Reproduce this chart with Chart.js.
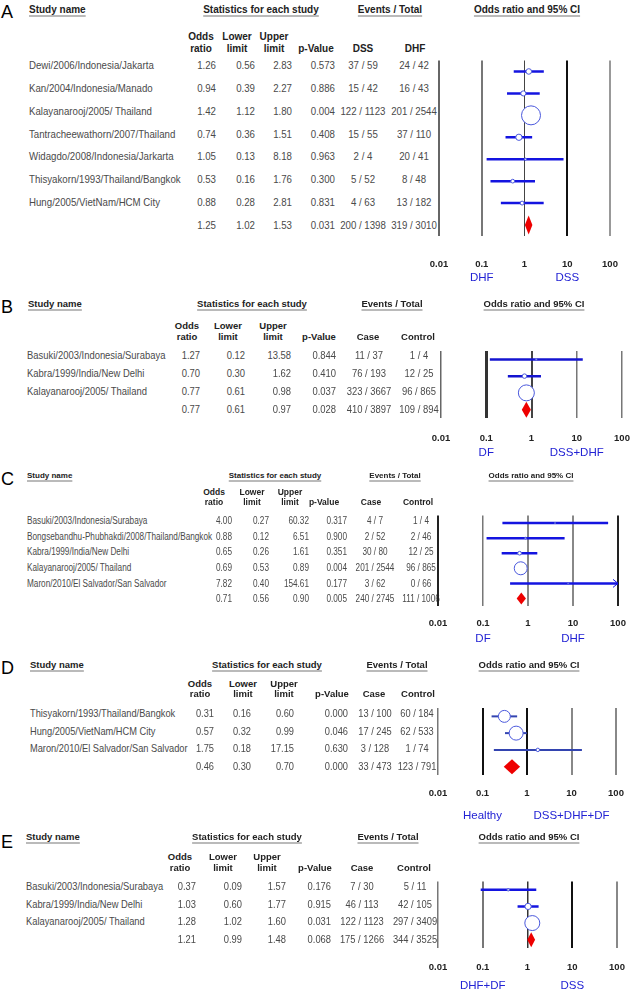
<!DOCTYPE html>
<html>
<head>
<meta charset="utf-8">
<title>Odds ratio forest plots</title>
<script src="https://cdn.jsdelivr.net/npm/chart.js"></script>
<style>
  body { margin: 0; background: #fff; }
  #page { position: relative; width: 632px; height: 992px; overflow: hidden; background: #fff; }
  .t { position: absolute; white-space: nowrap; line-height: 1; }
  canvas { position: absolute; }
</style>
</head>
<body>
<div id="page"></div>
<script>
// ---- values ----
const tickValues = [0.01, 0.1, 1, 10, 100];
const tickLabels = ['0.01', '0.1', '1', '10', '100'];

// A: DSS vs DHF (last entry = pooled)
const namesA = ['Dewi/2006/Indonesia/Jakarta', 'Kan/2004/Indonesia/Manado', 'Kalayanarooj/2005/ Thailand',
  'Tantracheewathorn/2007/Thailand', 'Widagdo/2008/Indonesia/Jarkarta', 'Thisyakorn/1993/Thailand/Bangkok',
  'Hung/2005/VietNam/HCM City', ''];
const oddsA = [1.26, 0.94, 1.42, 0.74, 1.05, 0.53, 0.88, 1.25];
const lowerA = [0.56, 0.39, 1.12, 0.36, 0.13, 0.16, 0.28, 1.02];
const upperA = [2.83, 2.27, 1.80, 1.51, 8.18, 1.76, 2.81, 1.53];
const pA = [0.573, 0.886, 0.004, 0.408, 0.963, 0.300, 0.831, 0.031];
const caseA = ['37 / 59', '15 / 42', '122 / 1123', '15 / 55', '2 / 4', '5 / 52', '4 / 63', '200 / 1398'];
const ctrlA = ['24 / 42', '16 / 43', '201 / 2544', '37 / 110', '20 / 41', '8 / 48', '13 / 182', '319 / 3010'];

// B: DSS+DHF vs DF
const namesB = ['Basuki/2003/Indonesia/Surabaya', 'Kabra/1999/India/New Delhi', 'Kalayanarooj/2005/ Thailand', ''];
const oddsB = [1.27, 0.70, 0.77, 0.77];
const lowerB = [0.12, 0.30, 0.61, 0.61];
const upperB = [13.58, 1.62, 0.98, 0.97];
const pB = [0.844, 0.410, 0.037, 0.028];
const caseB = ['11 / 37', '76 / 193', '323 / 3667', '410 / 3897'];
const ctrlB = ['1 / 4', '12 / 25', '96 / 865', '109 / 894'];

// C: DHF vs DF
const namesC = ['Basuki/2003/Indonesia/Surabaya', 'Bongsebandhu-Phubhakdi/2008/Thailand/Bangkok',
  'Kabra/1999/India/New Delhi', 'Kalayanarooj/2005/ Thailand', 'Maron/2010/El Salvador/San Salvador', ''];
const oddsC = [4.00, 0.88, 0.65, 0.69, 7.82, 0.71];
const lowerC = [0.27, 0.12, 0.26, 0.53, 0.40, 0.56];
const upperC = [60.32, 6.51, 1.61, 0.89, 154.61, 0.90];
const pC = [0.317, 0.900, 0.351, 0.004, 0.177, 0.005];
const caseC = ['4 / 7', '2 / 52', '30 / 80', '201 / 2544', '3 / 62', '240 / 2745'];
const ctrlC = ['1 / 4', '2 / 46', '12 / 25', '96 / 865', '0 / 66', '111 / 1006'];

// D: DSS+DHF+DF vs healthy
const namesD = ['Thisyakorn/1993/Thailand/Bangkok', 'Hung/2005/VietNam/HCM City', 'Maron/2010/El Salvador/San Salvador', ''];
const oddsD = [0.31, 0.57, 1.75, 0.46];
const lowerD = [0.16, 0.32, 0.18, 0.30];
const upperD = [0.60, 0.99, 17.15, 0.70];
const pD = [0.000, 0.046, 0.630, 0.000];
const caseD = ['13 / 100', '17 / 245', '3 / 128', '33 / 473'];
const ctrlD = ['60 / 184', '62 / 533', '1 / 74', '123 / 791'];

// E: DSS vs DHF+DF
const namesE = ['Basuki/2003/Indonesia/Surabaya', 'Kabra/1999/India/New Delhi', 'Kalayanarooj/2005/ Thailand', ''];
const oddsE = [0.37, 1.03, 1.28, 1.21];
const lowerE = [0.09, 0.60, 1.02, 0.99];
const upperE = [1.57, 1.77, 1.60, 1.48];
const pE = [0.176, 0.915, 0.031, 0.068];
const caseE = ['7 / 30', '46 / 113', '122 / 1123', '175 / 1266'];
const ctrlE = ['5 / 11', '42 / 105', '297 / 3409', '344 / 3525'];

const panels = [
  { letter: 'A', names: namesA, odds: oddsA, lower: lowerA, upper: upperA, p: pA, ev1: caseA, ev2: ctrlA, evHead: ['DSS', 'DHF'], groups: ['DHF', 'DSS'] },
  { letter: 'B', names: namesB, odds: oddsB, lower: lowerB, upper: upperB, p: pB, ev1: caseB, ev2: ctrlB, evHead: ['Case', 'Control'], groups: ['DF', 'DSS+DHF'] },
  { letter: 'C', names: namesC, odds: oddsC, lower: lowerC, upper: upperC, p: pC, ev1: caseC, ev2: ctrlC, evHead: ['Case', 'Control'], groups: ['DF', 'DHF'] },
  { letter: 'D', names: namesD, odds: oddsD, lower: lowerD, upper: upperD, p: pD, ev1: caseD, ev2: ctrlD, evHead: ['Case', 'Control'], groups: ['Healthy', 'DSS+DHF+DF'] },
  { letter: 'E', names: namesE, odds: oddsE, lower: lowerE, upper: upperE, p: pE, ev1: caseE, ev2: ctrlE, evHead: ['Case', 'Control'], groups: ['DHF+DF', 'DSS'] }
];

// ---- layout / styling per panel ----
const looks = [
  { letterY: 12, titleY: 9, titleX: [29, 261, 390, 527], headY: [36, 48], headX: [201, 237, 274, 316, 363, 415],
    nameX: 29, cols: [216, 255, 292, 335, 363, 414], plot: [439, 610, 54, 236], tickY: 264, groupY: 277,
    textPx: 11.8, headPx: 10, titlePx: 10, maxR: 9.5, halfH: 9.5, ci: '#1414e0', ciW: 2.5,
    grid: [['#666', 2], ['#777', 2], ['#444', 1], ['#111', 2], ['#999', 2]] },
  { letterY: 307, titleY: 303, titleX: [28, 252, 392, 534], headY: [325, 336], headX: [187, 228, 273, 319, 368, 418],
    nameX: 27, cols: [200, 245, 291, 336, 369, 419], plot: [441, 622, 346, 418], tickY: 438, groupY: 452,
    textPx: 11.5, headPx: 9.5, titlePx: 9.5, maxR: 8, halfH: 8, ci: '#1414d0', ciW: 2.5,
    grid: [['#666', 1.5], ['#333', 3], ['#444', 2], ['#777', 1.5], ['#777', 1.5]] },
  { letterY: 479, titleY: 475, titleX: [27, 275, 395, 531], headY: [492, 502], headX: [214, 252, 290, 324, 371, 418],
    nameX: 27, cols: [232, 269, 309, 347, 375, 421], plot: [438, 618, 512, 606], tickY: 623, groupY: 638,
    textPx: 10, headPx: 8.5, titlePx: 8, maxR: 6.5, halfH: 6, ci: '#1414e0', ciW: 2.5,
    grid: [['#222', 2], ['#777', 1.5], ['#888', 2], ['#888', 2], ['#222', 2]] },
  { letterY: 668, titleY: 664, titleX: [30, 267, 397, 529], headY: [683, 693], headX: [200, 243, 284, 332, 374, 418],
    nameX: 30, cols: [214, 251, 294, 348, 375, 417], plot: [438, 616, 704, 775], tickY: 793, groupY: 815,
    textPx: 11.3, headPx: 9.5, titlePx: 9.5, maxR: 7, halfH: 7.5, ci: '#3344b0', ciW: 2,
    grid: [['#777', 1.5], ['#111', 2], ['#111', 2], ['#888', 2], ['#888', 2]] },
  { letterY: 842, titleY: 836, titleX: [26, 247, 388, 529], headY: [856, 867], headX: [180, 223, 267, 315, 362, 414],
    nameX: 26, cols: [196, 242, 286, 331, 362, 415], plot: [438, 617, 877, 948], tickY: 967, groupY: 985,
    textPx: 11.4, headPx: 9.5, titlePx: 9.5, maxR: 7.5, halfH: 7.5, ci: '#1414e0', ciW: 2.5,
    grid: [['#777', 1.5], ['#777', 2], ['#333', 1.5], ['#111', 2], ['#888', 2]] }
];

const page = document.getElementById('page');
const SANS = '"Liberation Sans", Arial, sans-serif';
const NARROW_SCALE = 0.82; // Arial Narrow look, squeezed from Liberation Sans

function put(txt, x, y, align, font, color, underline, squeeze) {
  const d = document.createElement('div');
  d.className = 't';
  d.textContent = txt;
  d.style.font = font;
  d.style.color = color;
  d.style.left = x + 'px';
  d.style.top = y + 'px';
  const tx = align === 'right' ? '-100%' : align === 'center' ? '-50%' : '0';
  let tf = 'translate(' + tx + ', -50%)';
  if (squeeze) {
    tf += ' scaleX(' + squeeze + ')';
    d.style.transformOrigin = (align === 'right' ? 'right' : align === 'center' ? 'center' : 'left') + ' center';
  }
  d.style.transform = tf;
  if (underline) {
    d.style.textDecoration = 'underline';
    d.style.textDecorationColor = '#777';
    d.style.textUnderlineOffset = '3px';
  }
  page.appendChild(d);
}

function forestMarks(pn, lk) {
  const k = pn.odds.length - 1;
  return {
    id: 'forestMarks',
    afterDatasetsDraw(chart) {
      const { ctx, chartArea } = chart;
      const x = chart.scales.x, y = chart.scales.y;
      // pooled diamond
      const xl = x.getPixelForValue(pn.lower[k]), xo = x.getPixelForValue(pn.odds[k]);
      const xh = x.getPixelForValue(pn.upper[k]), yc = y.getPixelForValue(k);
      ctx.save();
      ctx.fillStyle = '#ee0000';
      ctx.beginPath();
      ctx.moveTo(xl, yc);
      ctx.lineTo(xo, yc - lk.halfH);
      ctx.lineTo(xh, yc);
      ctx.lineTo(xo, yc + lk.halfH);
      ctx.closePath();
      ctx.fill();
      // arrowheads where the interval runs past the axis
      ctx.strokeStyle = lk.ci;
      ctx.lineWidth = 1;
      for (let i = 0; i < k; i++) {
        if (pn.upper[i] > x.max) {
          const yy = y.getPixelForValue(i), xr = chartArea.right;
          ctx.beginPath();
          ctx.moveTo(xr - 5, yy - 4);
          ctx.lineTo(xr, yy);
          ctx.lineTo(xr - 5, yy + 4);
          ctx.stroke();
        }
      }
      ctx.restore();
    }
  };
}

function buildPanel(pn, lk) {
  const n = pn.odds.length;
  const k = n - 1;
  const [pl, pr, pt, pb] = lk.plot;
  const rowY = i => pt + (i + 0.5) * (pb - pt) / n;

  // letter and section titles
  put(pn.letter, 1, lk.letterY, 'left', '18px ' + SANS, '#000');
  const tf = 'bold ' + lk.titlePx + 'px ' + SANS;
  put('Study name', lk.titleX[0], lk.titleY, 'left', tf, '#222', true);
  put('Statistics for each study', lk.titleX[1], lk.titleY, 'center', tf, '#222', true);
  put('Events / Total', lk.titleX[2], lk.titleY, 'center', tf, '#222', true);
  put('Odds ratio and 95% CI', lk.titleX[3], lk.titleY, 'center', tf, '#222', true);

  // column headers
  const hf = 'bold ' + lk.headPx + 'px ' + SANS;
  const head1 = ['Odds', 'Lower', 'Upper', '', '', ''];
  const head2 = ['ratio', 'limit', 'limit', 'p-Value', pn.evHead[0], pn.evHead[1]];
  head1.forEach((h, i) => { if (h) put(h, lk.headX[i], lk.headY[0], 'center', hf, '#222'); });
  head2.forEach((h, i) => put(h, lk.headX[i], lk.headY[1], 'center', hf, '#222'));

  // table rows
  const bf = lk.textPx + 'px ' + SANS;
  const col = '#4a4a4a';
  const sq = NARROW_SCALE;
  for (let i = 0; i < n; i++) {
    const yy = rowY(i);
    if (pn.names[i]) put(pn.names[i], lk.nameX, yy, 'left', bf, col, false, sq);
    put(pn.odds[i].toFixed(2), lk.cols[0], yy, 'right', bf, col, false, sq);
    put(pn.lower[i].toFixed(2), lk.cols[1], yy, 'right', bf, col, false, sq);
    put(pn.upper[i].toFixed(2), lk.cols[2], yy, 'right', bf, col, false, sq);
    put(pn.p[i].toFixed(3), lk.cols[3], yy, 'right', bf, col, false, sq);
    put(pn.ev1[i], lk.cols[4], yy, 'center', bf, col, false, sq);
    put(pn.ev2[i], lk.cols[5], yy, 'center', bf, col, false, sq);
  }

  // marker radii from inverse-variance weights implied by the CIs
  const w = pn.odds.slice(0, k).map((v, i) => {
    const se = (Math.log(pn.upper[i]) - Math.log(pn.lower[i])) / 3.92;
    return 1 / (se * se);
  });
  const wmax = Math.max(...w);
  const radii = w.map(v => lk.maxR * Math.sqrt(v / wmax));

  const datasets = [{
    data: pn.odds.slice(0, k).map((v, i) => ({ x: v, y: i })),
    pointRadius: radii,
    pointBackgroundColor: '#fff',
    pointBorderColor: '#4a58dc',
    pointBorderWidth: 1,
    showLine: false,
    order: 0
  }];
  for (let i = 0; i < k; i++) {
    datasets.push({
      data: [{ x: pn.lower[i], y: i }, { x: pn.upper[i], y: i }],
      showLine: true,
      borderColor: lk.ci,
      borderWidth: lk.ciW,
      pointRadius: 0,
      order: 1
    });
  }

  const padL = 18, padR = 18, padT = 4;
  const axisH = lk.tickY - pb + 10;
  const W = pr - pl + padL + padR, H = pb - pt + padT + axisH;
  const cv = document.createElement('canvas');
  cv.width = W; cv.height = H;
  cv.style.width = W + 'px'; cv.style.height = H + 'px';
  cv.style.left = (pl - padL) + 'px';
  cv.style.top = (pt - padT) + 'px';
  page.appendChild(cv);

  const chart = new Chart(cv, {
    type: 'scatter',
    data: { datasets },
    options: {
      responsive: false,
      animation: false,
      events: [],
      layout: { padding: { left: padL, right: padR, top: padT, bottom: 0 } },
      plugins: { legend: { display: false }, tooltip: { enabled: false } },
      scales: {
        x: {
          type: 'logarithmic', min: 0.01, max: 100,
          afterBuildTicks: s => { s.ticks = tickValues.map(v => ({ value: v })); },
          afterFit: s => { s.height = axisH; },
          ticks: {
            autoSkip: false, maxRotation: 0,
            padding: 0,
            color: '#222',
            font: { family: 'Liberation Sans', size: 9.5, weight: 'bold' },
            callback: (v, i) => tickLabels[i]
          },
          grid: {
            color: c => lk.grid[c.index][0],
            lineWidth: c => lk.grid[c.index][1],
            drawTicks: true,
            tickLength: lk.tickY - pb - 5.7,
            tickColor: 'rgba(0,0,0,0)'
          },
          border: { display: false }
        },
        y: { type: 'linear', reverse: true, min: -0.5, max: n - 0.5, display: false }
      }
    },
    plugins: [forestMarks(pn, lk)]
  });

  // group captions under the 0.1 and 10 ticks
  const gf = '11.5px ' + SANS;
  const left = pl - padL;
  put(pn.groups[0], left + chart.scales.x.getPixelForValue(0.1), lk.groupY, 'center', gf, '#2222d4');
  put(pn.groups[1], left + chart.scales.x.getPixelForValue(10), lk.groupY, 'center', gf, '#2222d4');
}

panels.forEach((pn, i) => buildPanel(pn, looks[i]));
</script>
</body>
</html>
